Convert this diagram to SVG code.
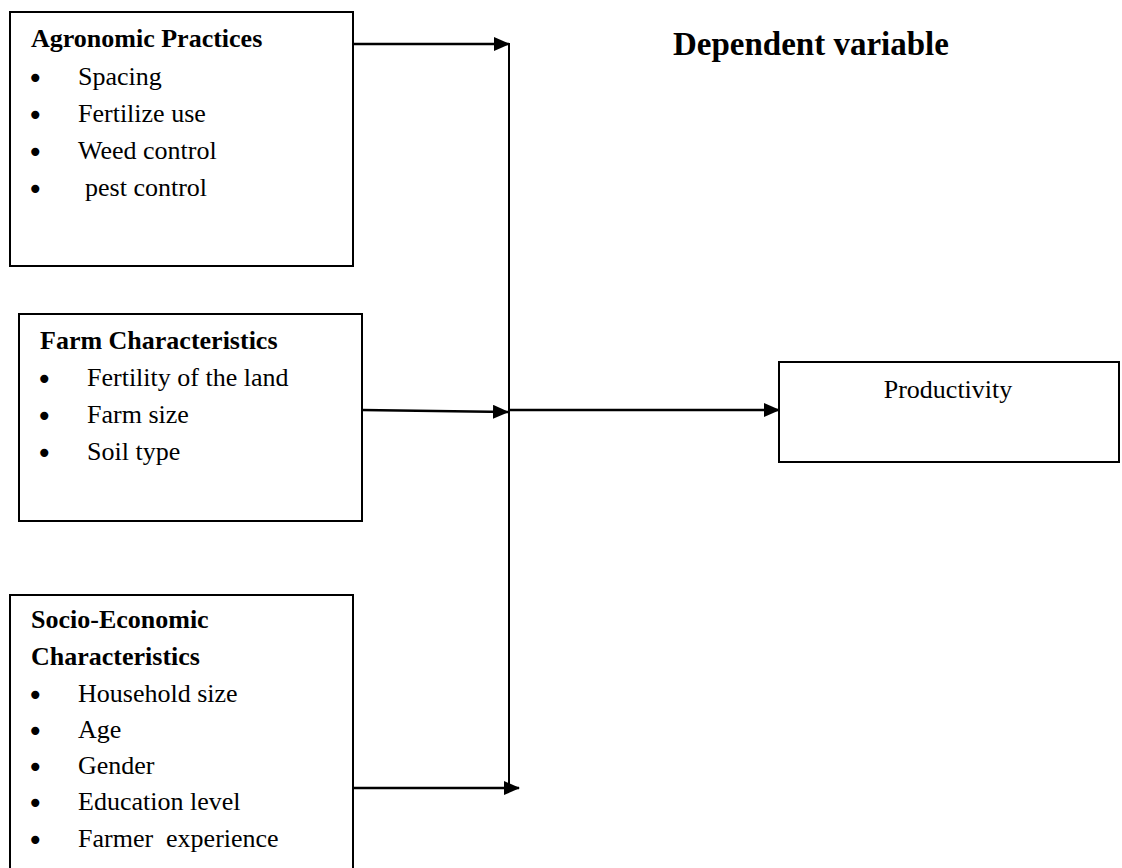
<svg xmlns="http://www.w3.org/2000/svg" width="1122" height="868" viewBox="0 0 1122 868">
<defs>
<marker id="arr" markerUnits="userSpaceOnUse" markerWidth="16" markerHeight="14" refX="15" refY="7" orient="auto">
<path d="M0,0 L16,7 L0,14 Z" fill="#000"/>
</marker>
<style>
.box{fill:#fff;stroke:#000;stroke-width:2}
.t{font-family:"Liberation Serif","Times New Roman",serif;font-size:26px;fill:#000}
.b{font-weight:bold}
.d{font-family:"DejaVu Sans",sans-serif;font-size:28px;fill:#000}
.conn{stroke:#000;stroke-width:2.6;fill:none}
.vl{stroke:#000;stroke-width:2;fill:none}
</style>
</defs>
<rect width="1122" height="868" fill="#fff"/>
<g id="connectors">
<line class="vl" x1="509" y1="43" x2="509" y2="789"/>
<line class="conn" x1="353" y1="44" x2="509" y2="44" marker-end="url(#arr)"/>
<line class="conn" x1="362" y1="410" x2="508" y2="412" marker-end="url(#arr)"/>
<line class="conn" x1="509" y1="410" x2="779" y2="410" marker-end="url(#arr)"/>
<line class="conn" x1="345" y1="788" x2="519" y2="788" marker-end="url(#arr)"/>
</g>
<g id="title">
<text class="t b" x="811" y="55" text-anchor="middle" style="font-size:33px">Dependent variable</text>
</g>
<g id="agronomic">
<rect class="box" x="10" y="12" width="343" height="254"/>
<text class="t b" x="31" y="47">Agronomic Practices</text>
<text class="d" x="27" y="88">•</text><text class="t" x="78" y="85">Spacing</text>
<text class="d" x="27" y="125">•</text><text class="t" x="78" y="122">Fertilize use</text>
<text class="d" x="27" y="162">•</text><text class="t" x="78" y="159">Weed control</text>
<text class="d" x="27" y="199">•</text><text class="t" x="85" y="196">pest control</text>
</g>
<g id="farm">
<rect class="box" x="19" y="314" width="343" height="207"/>
<text class="t b" x="40" y="349">Farm Characteristics</text>
<text class="d" x="36" y="389">•</text><text class="t" x="87" y="386">Fertility of the land</text>
<text class="d" x="36" y="426">•</text><text class="t" x="87" y="423">Farm size</text>
<text class="d" x="36" y="463">•</text><text class="t" x="87" y="460">Soil type</text>
</g>
<g id="socio">
<rect class="box" x="10" y="595" width="343" height="300"/>
<text class="t b" x="31" y="628">Socio-Economic</text>
<text class="t b" x="31" y="665">Characteristics</text>
<text class="d" x="27" y="705">•</text><text class="t" x="78" y="702">Household size</text>
<text class="d" x="27" y="741">•</text><text class="t" x="78" y="738">Age</text>
<text class="d" x="27" y="777">•</text><text class="t" x="78" y="774">Gender</text>
<text class="d" x="27" y="813">•</text><text class="t" x="78" y="810">Education level</text>
<text class="d" x="27" y="850">•</text><text class="t" x="78" y="847" xml:space="preserve">Farmer  experience</text>
</g>
<g id="productivity">
<rect class="box" x="779" y="362" width="340" height="100"/>
<text class="t" x="948" y="398" text-anchor="middle">Productivity</text>
</g>
</svg>
